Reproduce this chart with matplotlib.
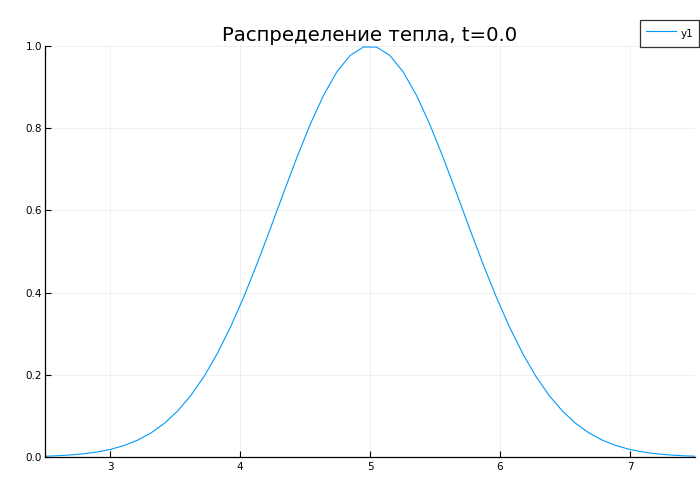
import numpy as np
import matplotlib
matplotlib.use("Agg")
import matplotlib.pyplot as plt

# heat distribution at t=0 (50 grid points on [2.5, 7.5])
x = np.linspace(2.5, 7.5, 50)
u = [0.00193, 0.00318, 0.00514, 0.00812, 0.01258, 0.01908, 0.02834, 0.04122,
     0.05874, 0.08193, 0.11203, 0.14995, 0.19652, 0.25233, 0.31730, 0.39073,
     0.47128, 0.55673, 0.64410, 0.72979, 0.80990, 0.88021, 0.93697, 0.97687,
     0.99740, 0.99740, 0.97687, 0.93697, 0.88021, 0.80990, 0.72979, 0.64410,
     0.55673, 0.47128, 0.39073, 0.31730, 0.25233, 0.19652, 0.14995, 0.11203,
     0.08193, 0.05874, 0.04122, 0.02834, 0.01908, 0.01258, 0.00812, 0.00514,
     0.00318, 0.00193]
xticks = [3, 4, 5, 6, 7]
yticks = [0.0, 0.2, 0.4, 0.6, 0.8, 1.0]
title = "Распределение тепла, t=0.0"

fig = plt.figure(figsize=(7, 5), dpi=100)
ax = fig.add_axes([45/700, 1 - 457/500, 650/700, 411/500])

ax.plot(x, u, color="#009AFA", lw=0.8, label="y1")

ax.set_xlim(2.5, 7.5)
ax.set_ylim(0, 1.0)
ax.set_xticks(xticks)
ax.set_yticks(yticks)
ax.set_yticklabels([f"{v:.1f}" for v in yticks])
ax.tick_params(direction="in", length=4, width=0.8, labelsize=7.5)
ax.tick_params(axis="y", pad=2)
ax.tick_params(axis="x", pad=3.5)
ax.grid(True, color="black", alpha=0.07, lw=0.6)
for s in ("top", "right"):
    ax.spines[s].set_visible(False)
for s in ("left", "bottom"):
    ax.spines[s].set_linewidth(0.9)

fig.text(370/700, 1 - 35/500, title, ha="center", va="center", fontsize=14.2)

leg = ax.legend(loc="upper right", bbox_to_anchor=(699/700, 1 - 20/500),
                bbox_transform=fig.transFigure, fontsize=7.5, frameon=True,
                fancybox=False, handlelength=2.9, handleheight=1.9,
                handletextpad=0.45, borderpad=0.55, borderaxespad=0)
leg.get_frame().set_edgecolor("black")
leg.get_frame().set_linewidth(0.9)

fig.savefig("out.png", dpi=100)
